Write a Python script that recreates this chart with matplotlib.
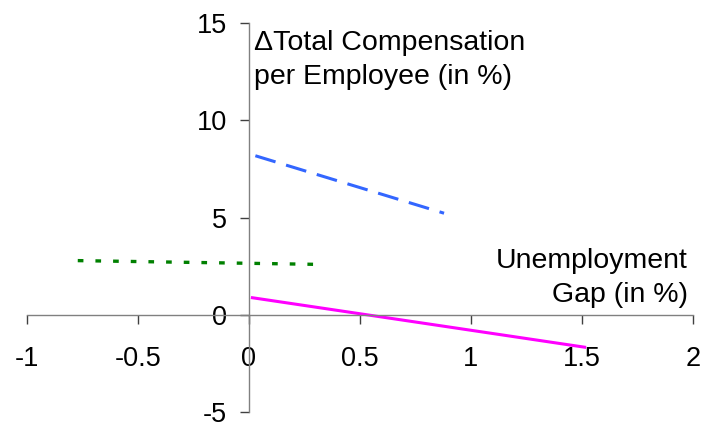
import matplotlib
matplotlib.use("Agg")
import matplotlib.pyplot as plt

plt.rcParams['font.family'] = ['Liberation Sans', 'DejaVu Sans']

# Data
blue_x = [0.03, 0.88]
blue_y = [8.18, 5.22]
green_x = [-0.77, 0.29]
green_y = [2.78, 2.59]
magenta_x = [0.01, 1.52]
magenta_y = [0.88, -1.69]

xticks = [-1, -0.5, 0, 0.5, 1, 1.5, 2]
xticklabels = ['-1', '-0.5', '0', '0.5', '1', '1.5', '2']
yticks = [-5, 0, 5, 10, 15]
yticklabels = ['-5', '0', '5', '10', '15']

fig = plt.figure(figsize=(7.02, 4.23), dpi=100)
W, H = 702, 423
left = 26.7 / W
right = 692.7 / W
top = 1 - 23.3 / H
bottom = 1 - 411.7 / H
ax = fig.add_axes([left, bottom, right - left, top - bottom])
ax.set_xlim(-1, 2)
ax.set_ylim(-5, 15)

l1, = ax.plot(blue_x, blue_y, color='#3366FF', lw=2.2, dash_capstyle='butt')
l1.set_dashes([6.9, 3.6])
l2, = ax.plot(green_x, green_y, color='#008000', lw=2.4, dash_capstyle='butt')
l2.set_dashes([1.7, 3.6])
ax.plot(magenta_x, magenta_y, color='#FF00FF', lw=2.2, solid_capstyle='butt')

for s in ['top', 'right']:
    ax.spines[s].set_visible(False)
ax.spines['left'].set_position(('data', 0))
ax.spines['bottom'].set_position(('data', 0))
for s in ['left', 'bottom']:
    ax.spines[s].set_color('#808080')
    ax.spines[s].set_linewidth(1.0)

ax.set_xticks(xticks)
ax.set_xticklabels(xticklabels)
ax.set_yticks(yticks)
ax.set_yticklabels(yticklabels)
ax.tick_params(axis='x', direction='out', length=6.5, width=1, color='#404040',
               labelsize=19.5, pad=16)
ax.tick_params(axis='y', direction='out', length=6.5, width=1, color='#404040',
               labelsize=19.5, pad=9)

fig.text(254 / W, 1 - 60 / H, '\u0394Total Compensation\nper Employee (in %)',
         ha='left', va='center', fontsize=20.5, linespacing=1.4)
fig.text(688 / W, 1 - 278.5 / H, 'Unemployment\nGap (in %)', ha='right', va='center',
         fontsize=20.5, linespacing=1.4, multialignment='right')

fig.savefig('out.png', dpi=100)
